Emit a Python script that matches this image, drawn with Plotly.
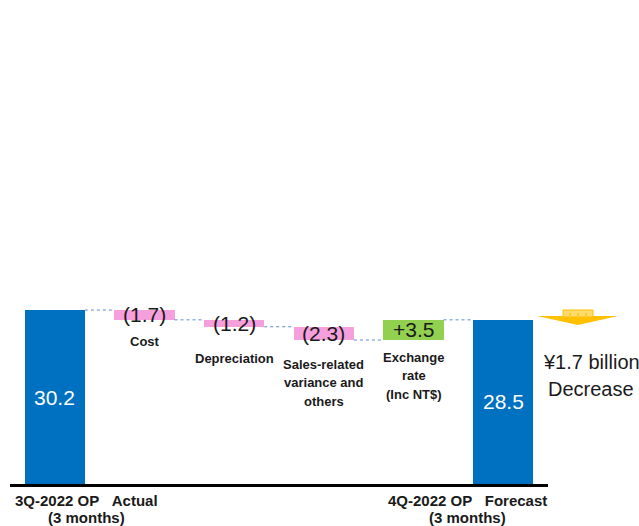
import plotly.graph_objects as go

# ---- data -------------------------------------------------------------
step_names = ["3Q-2022 OP Actual", "Cost", "Depreciation",
              "Sales-related variance and others", "Exchange rate (Inc NT$)",
              "4Q-2022 OP Forecast"]
start_op = 30.2
changes = [-1.7, -1.2, -2.3, 3.5]
end_op = 28.5
change_texts = ["(1.7)", "(1.2)", "(2.3)", "+3.5"]
step_lines = [["Cost"], ["Depreciation"],
              ["Sales-related", "variance and", "others"],
              ["Exchange", "rate", "(Inc NT$)"]]
total_lines = [["3Q-2022 OP\u00a0\u00a0\u00a0Actual", "(3 months)"],
               ["4Q-2022 OP\u00a0\u00a0\u00a0Forecast", "(3 months)"]]
summary_lines = ["\u00a51.7 billion", "Decrease"]

# ---- layout constants --------------------------------------------------
W, H = 639, 526
M_L, M_R, M_T, M_B = 10, 91, 10, 42
PX_PER_UNIT = 5.76
plot_h = H - M_T - M_B
plot_w = W - M_L - M_R
y_max = plot_h / PX_PER_UNIT

BLUE = "#0070C0"
PINK = "#F59FDC"
GREEN = "#92D050"
GOLD = "#FFC000"
TEXT = "#1A1A1A"
FONT = "Liberation Sans, Arial"
BAR_W = 0.67


def paper_x(px):
    return (px - M_L) / plot_w


def paper_y(py):
    return (H - M_B - py) / plot_h


# ---- waterfall geometry -----------------------------------------------
bases, heights, colors, levels = [0.0], [start_op], [BLUE], [start_op]
running = start_op
for c in changes:
    bases.append(running + min(c, 0))
    heights.append(abs(c))
    colors.append(GREEN if c > 0 else PINK)
    running = round(running + c, 2)
    levels.append(running)
bases.append(0.0)
heights.append(end_op)
colors.append(BLUE)

xs = list(range(len(step_names)))

fig = go.Figure(go.Bar(
    x=xs, y=heights, base=bases, width=BAR_W,
    marker=dict(color=colors, line=dict(width=0)),
    hovertext=step_names, showlegend=False,
))

shapes = []
# dotted connectors between consecutive bars
for i, lvl in enumerate(levels):
    shapes.append(dict(type="line", xref="x", yref="y",
                       x0=i + BAR_W / 2, x1=i + 1 - BAR_W / 2, y0=lvl, y1=lvl,
                       line=dict(color="#5B8BD0", width=1, dash="dot")))

# gold down-arrow beside the forecast bar
tri = [(537, 316), (618, 316), (578, 325)]
path = "M {} {} L {} {} L {} {} Z".format(
    *[v for p in tri for v in (paper_x(p[0]), paper_y(p[1]))])
shapes.append(dict(type="path", xref="paper", yref="paper", path=path,
                   fillcolor=GOLD, line=dict(width=0)))
shapes.append(dict(type="rect", xref="paper", yref="paper",
                   x0=paper_x(563), x1=paper_x(593), y0=paper_y(317), y1=paper_y(310),
                   fillcolor="#FFDB6E", line=dict(color=GOLD, width=1)))
for gx in (570, 578, 586):
    shapes.append(dict(type="line", xref="paper", yref="paper",
                       x0=paper_x(gx), x1=paper_x(gx), y0=paper_y(316), y1=paper_y(311),
                       line=dict(color="#F5B800", width=1, dash="dot")))

annotations = []
# totals inside the blue bars
for i, v in ((0, start_op), (5, end_op)):
    annotations.append(dict(x=i, y=v / 2, xref="x", yref="y", text=f"{v:.1f}",
                            showarrow=False,
                            font=dict(size=21, color="white", family=FONT)))
# change values centred on the floating bars
for k, t in enumerate(change_texts):
    i = k + 1
    annotations.append(dict(x=i, y=bases[i] + heights[i] / 2, xref="x", yref="y",
                            text=t, showarrow=False,
                            font=dict(size=21, color=TEXT, family=FONT)))
# step names under the floating bars (first-line offset below bar bottom, px)
first_shift = [-22, -32, -24, -17]
LINE_STEP = 18.8
for k, lines in enumerate(step_lines):
    i = k + 1
    for j, line in enumerate(lines):
        annotations.append(dict(x=i, y=bases[i], xref="x", yref="y",
                                text=f"<b>{line}</b>", showarrow=False,
                                xanchor="center", yanchor="middle",
                                yshift=first_shift[k] - j * LINE_STEP,
                                font=dict(size=13, color=TEXT, family=FONT)))
# names of the two totals below the axis
for lines, cx in zip(total_lines, (86, 467)):
    for j, line in enumerate(lines):
        annotations.append(dict(x=paper_x(cx), y=paper_y(500 + j * 17.5),
                                xref="paper", yref="paper",
                                text=f"<b>{line}</b>", showarrow=False,
                                xanchor="center", yanchor="middle",
                                font=dict(size=15, color=TEXT, family=FONT)))
# summary beside the arrow
for j, line in enumerate(summary_lines):
    annotations.append(dict(x=paper_x(591), y=paper_y(362 + j * 27),
                            xref="paper", yref="paper", text=line, showarrow=False,
                            xanchor="center", yanchor="middle",
                            font=dict(size=20, color=TEXT, family=FONT)))

fig.update_layout(
    width=W, height=H,
    margin=dict(l=M_L, r=M_R, t=M_T, b=M_B),
    paper_bgcolor="white", plot_bgcolor="white",
    xaxis=dict(range=[-0.5, 5.5], showticklabels=False, ticks="", showgrid=False,
               zeroline=False, showline=True, linecolor="black", linewidth=2.5,
               fixedrange=True),
    yaxis=dict(range=[0, y_max], visible=False, fixedrange=True),
    shapes=shapes, annotations=annotations, bargap=0,
)

fig.write_html("out.html")
